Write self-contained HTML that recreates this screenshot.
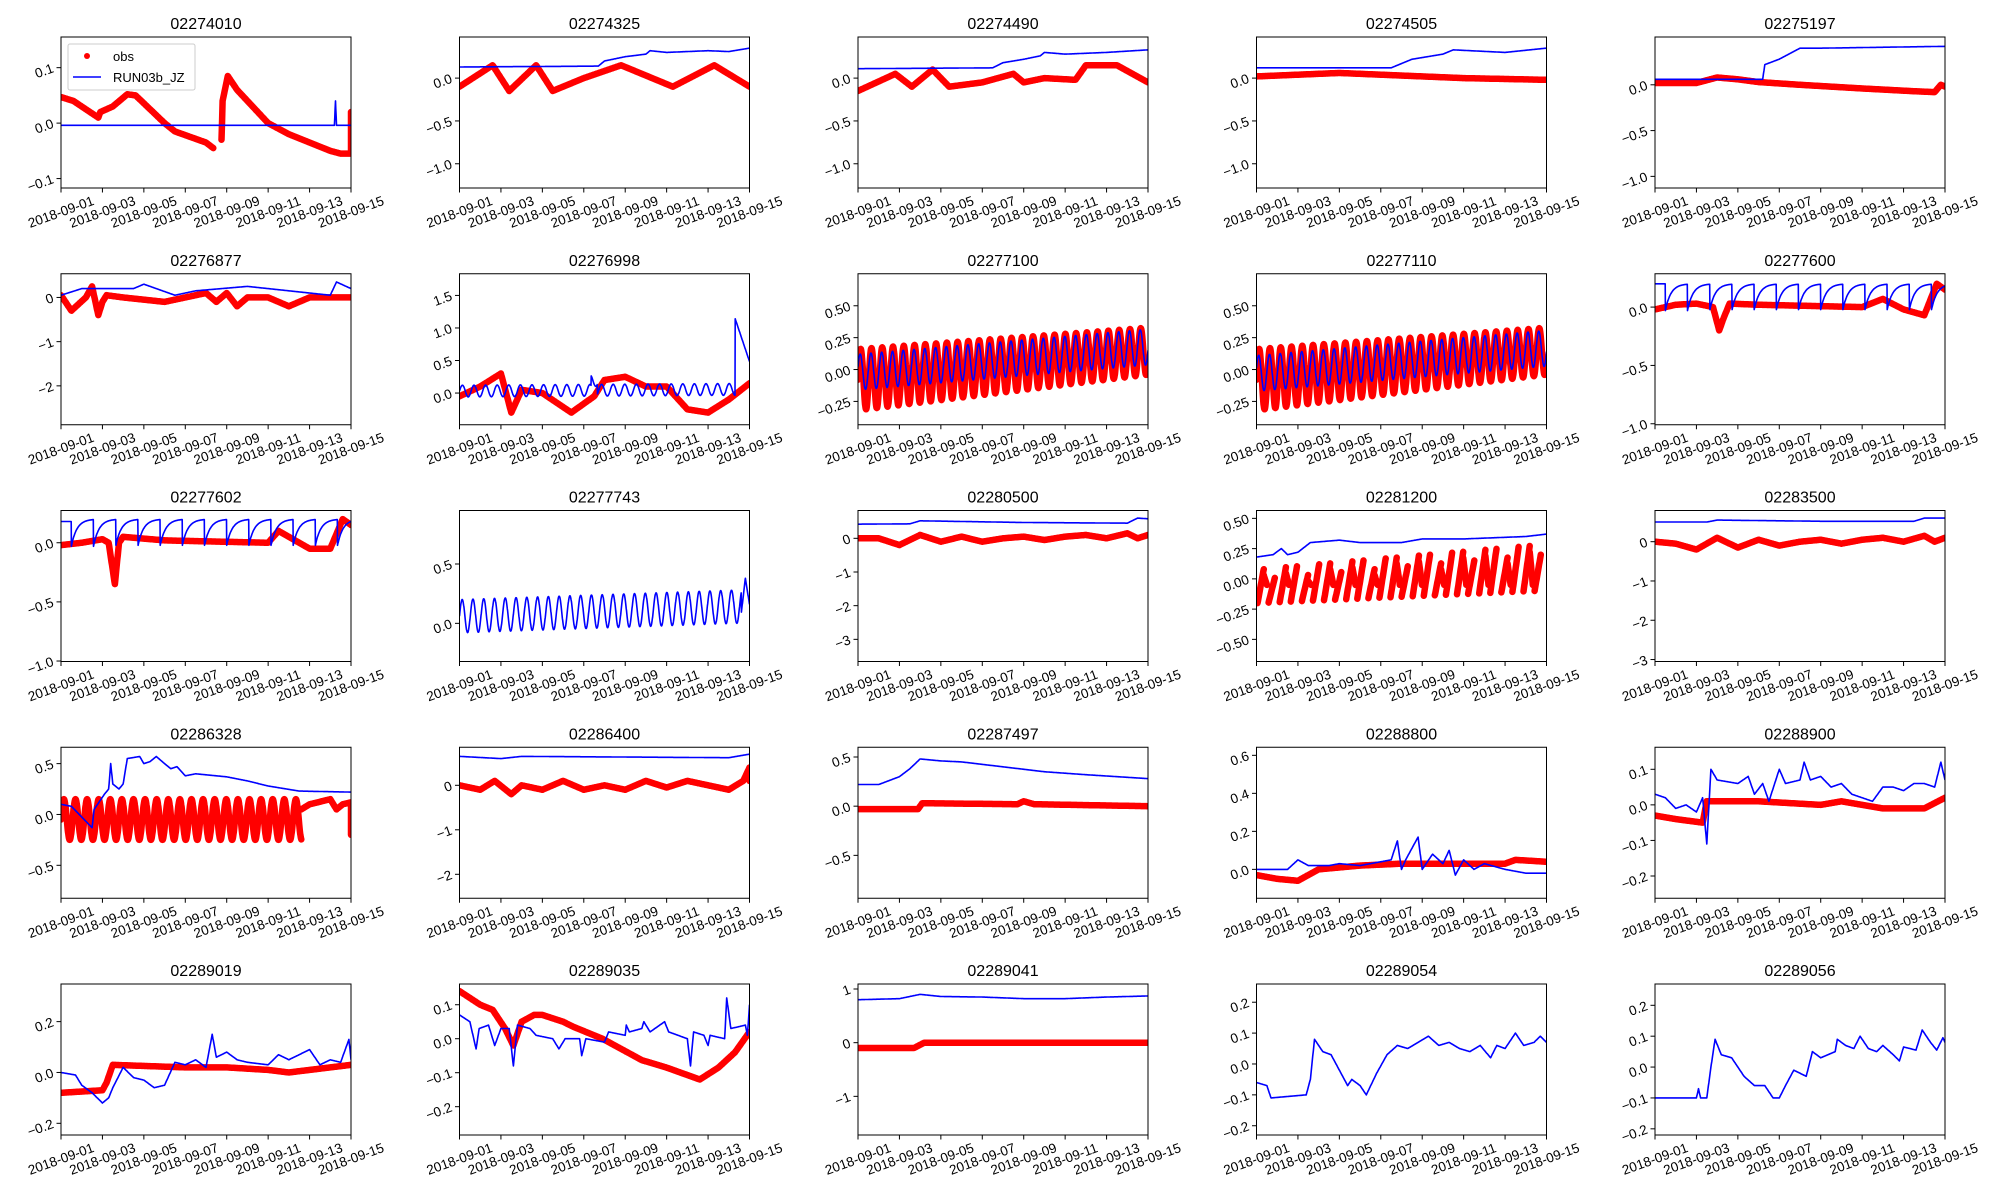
<!DOCTYPE html>
<html><head><meta charset="utf-8">
<style>
html,body{margin:0;padding:0;background:#fff;}
svg{display:block;}
text{font-family:"Liberation Sans","DejaVu Sans",sans-serif;fill:#000;}
</style></head>
<body>
<svg id="s" width="2000" height="1200" viewBox="0 0 2000 1200" xmlns="http://www.w3.org/2000/svg"></svg>
<script>
var NS="http://www.w3.org/2000/svg";
var S=document.getElementById('s');
function el(n,a,p){var e=document.createElementNS(NS,n);for(var k in a)e.setAttribute(k,a[k]);(p||S).appendChild(e);return e;}
var XL=["2018-09-01","2018-09-03","2018-09-05","2018-09-07","2018-09-09","2018-09-11","2018-09-13","2018-09-15"];
function lin(pts,step){step=step||0.02;var o=[];for(var i=0;i<pts.length-1;i++){var a=pts[i],b=pts[i+1];var n=Math.max(1,Math.round((b[0]-a[0])/step));for(var j=0;j<n;j++){var f=j/n;o.push([a[0]+(b[0]-a[0])*f,a[1]+(b[1]-a[1])*f]);}}o.push(pts[pts.length-1]);return o;}
function fn(f,t0,t1){t0=t0||0;t1=t1===undefined?14:t1;var o=[];for(var t=t0;t<=t1+1e-9;t+=0.01)o.push([t,f(t)]);return o;}
function saw(t,off,per){var p=((t-off)/per)%1;if(p<0)p+=1;return p;}
var P=[
{t:"02274010",y:[-0.117,0.1553],yt:[[0.1,"0.1"],[0,"0.0"],[-0.1,"−0.1"]],
 o:[lin([[0,.047],[0.6,.04],[1.8,.01],[1.9,.02],[2.5,.03],[3.2,.052],[3.6,.05],[5,0],[5.5,-.015],[7,-.035],[7.35,-.045]]),lin([[7.75,-.03],[7.8,.04],[8.05,.085],[8.5,.06],[10,0],[11,-.02],[12,-.035],[13,-.05],[13.5,-.055],[14,-.055],[14,.02]])],
 b:[lin([[0,-.004],[13.2,-.004],[13.25,.04],[13.3,-.004],[14,-.004]])],leg:1},
{t:"02274325",y:[-1.283,0.48],yt:[[0,"0.0"],[-0.5,"−0.5"],[-1,"−1.0"]],
 o:[lin([[0,-.1],[1.6,.15],[2.4,-.15],[3.7,.15],[4.5,-.15],[6,0],[7.8,.15],[10.3,-.1],[12.3,.15],[14,-.1]])],
 b:[lin([[0,.13],[6.7,.14],[7,.2],[8,.25],[9,.28],[9.2,.32],[10,.3],[12,.32],[13,.31],[14,.35]])]},
{t:"02274490",y:[-1.283,0.48],yt:[[0,"0.0"],[-0.5,"−0.5"],[-1,"−1.0"]],
 o:[lin([[0,-.15],[1.8,.05],[2.6,-.1],[3.6,.1],[4.4,-.1],[6,-.05],[7.5,.05],[8,-.05],[9,0],[10.5,-.02],[11,.15],[12.5,.15],[14,-.05]])],
 b:[lin([[0,.11],[6.5,.12],[7,.18],[8,.22],[8.8,.26],[9,.3],[10,.28],[12,.3],[14,.33]])]},
{t:"02274505",y:[-1.283,0.48],yt:[[0,"0.0"],[-0.5,"−0.5"],[-1,"−1.0"]],
 o:[lin([[0,.02],[4,.06],[7,.03],[10,0],[14,-.02]])],
 b:[lin([[0,.12],[6.5,.12],[7.5,.22],[9,.28],[9.5,.33],[12,.3],[14,.35]])]},
{t:"02275197",y:[-1.127,0.522],yt:[[0,"0.0"],[-0.5,"−0.5"],[-1,"−1.0"]],
 o:[lin([[0,.02],[2,.02],[3,.08],[4,.06],[5,.03],[7,0],[10,-.04],[12.5,-.07],[13.5,-.08],[13.8,0],[14,-.02]])],
 b:[lin([[0,.06],[5.2,.06],[5.3,.22],[6,.28],[7,.4],[8,.4],[14,.42]])]},
{t:"02276877",y:[-2.88,0.536],yt:[[0,"0"],[-1,"−1"],[-2,"−2"]],
 o:[lin([[0,.05],[0.5,-.3],[1.2,0],[1.5,.25],[1.8,-.4],[2.0,-.1],[2.2,.05],[3,0],[5,-.1],[7,.1],[7.5,-.1],[8,.1],[8.5,-.2],[9,0],[10,0],[11,-.2],[12,0],[14,0]])],
 b:[lin([[0,.05],[1,.2],[3.5,.2],[4,.3],[5.5,.05],[6.5,.15],[9,.25],[10,.2],[13,.05],[13.3,.35],[14,.2]])]},
{t:"02276998",y:[-0.487,1.833],yt:[[1.5,"1.5"],[1,"1.0"],[0.5,"0.5"],[0,"0.0"]],
 o:[lin([[0,-.05],[1,.1],[2,.3],[2.5,-.3],[3,.05],[4,0],[5.4,-.3],[6.5,-.05],[7,.2],[8,.25],[9,.1],[10,.1],[11,-.25],[12,-.3],[13,-.1],[14,.15]])],
 b:[fn(function(t){if(t>13.3)return 1.15-(t-13.3)*0.95;return 0.03+0.002*t+0.09*Math.sin(2*Math.PI*t/0.56)+(Math.abs(t-6.5)<0.15?0.15:0);})]},
{t:"02277100",y:[-0.433,0.751],yt:[[0.5,"0.50"],[0.25,"0.25"],[0,"0.00"],[-0.25,"−0.25"]],
 o:[fn(function(t){return -0.08+0.016*t+(0.24-0.004*t)*Math.sin(2*Math.PI*t/0.52);})],
 b:[fn(function(t){return -0.02+0.014*t+0.14*Math.sin(2*Math.PI*t/0.52+0.3);})]},
{t:"02277110",y:[-0.433,0.751],yt:[[0.5,"0.50"],[0.25,"0.25"],[0,"0.00"],[-0.25,"−0.25"]],
 o:[fn(function(t){return -0.08+0.016*t+(0.24-0.004*t)*Math.sin(2*Math.PI*t/0.52);})],
 b:[fn(function(t){return -0.03+0.014*t+0.14*Math.sin(2*Math.PI*t/0.52+0.3);})]},
{t:"02277600",y:[-1.0085,0.2858],yt:[[0,"0.0"],[-0.5,"−0.5"],[-1,"−1.0"]],
 o:[lin([[0,-.02],[1,.02],[2,.03],[2.8,0],[3.1,-.2],[3.3,-.1],[3.6,.03],[5,.02],[10,0],[11,.07],[12,-.02],[13,-.07],[13.6,.2],[14,.15]])],
 b:[fn(function(t){if(t<0.5)return 0.2;var p=saw(t,0.5,1.07);return -0.03+0.23*(1-Math.exp(-4*p));})]},
{t:"02277602",y:[-1.004,0.2726],yt:[[0,"0.0"],[-0.5,"−0.5"],[-1,"−1.0"]],
 o:[lin([[0,-.02],[1,0],[2,.03],[2.3,0],[2.6,-.35],[2.8,0],[3,.05],[5,.02],[10,0],[10.5,.1],[11,.05],[12,-.05],[13,-.05],[13.6,.2],[14,.15]])],
 b:[fn(function(t){if(t<0.5)return 0.18;var p=saw(t,0.5,1.07);return -0.03+0.23*(1-Math.exp(-4*p));})]},
{t:"02277743",y:[-0.3216,0.951],yt:[[0.5,"0.5"],[0,"0.0"]],
 o:[],
 b:[fn(function(t){if(t>13.6)return 0.38-(t-13.8)*1.1*(t>13.8?1:0)-(t<=13.8?(13.8-t)*1.5:0);return 0.06+0.006*t+0.14*Math.sin(2*Math.PI*t/0.52);})]},
{t:"02280500",y:[-3.658,0.826],yt:[[0,"0"],[-1,"−1"],[-2,"−2"],[-3,"−3"]],
 o:[lin([[0,0],[1,0],[2,-.2],[3,.1],[4,-.1],[5,.05],[6,-.1],[7,0],[8,.05],[9,-.05],[10,.05],[11,.1],[12,0],[13,.15],[13.5,.0],[14,.1]])],
 b:[lin([[0,.42],[2.5,.43],[3,.52],[8,.47],[13,.45],[13.5,.6],[14,.58]])]},
{t:"02281200",y:[-0.683,0.565],yt:[[0.5,"0.50"],[0.25,"0.25"],[0,"0.00"],[-0.25,"−0.25"],[-0.5,"−0.50"]],
 o:(function(){var a=[];for(var k=0;k<26;k++){var t0=0.05+k*0.535;var lo=-0.2+0.004*k,hi=0.08+0.008*k;if(k%3==1)hi-=0.08;a.push(lin([[t0,lo],[t0+0.3,hi]],0.02));if(k%2==0)a.push(lin([[t0+0.3,hi-0.05],[t0+0.45,-0.05]],0.02));}return a;})(),
 b:[lin([[0,.18],[0.8,.2],[1.2,.25],[1.5,.2],[2,.22],[2.6,.3],[4,.32],[5,.3],[6,.3],[7,.3],[8,.33],[10,.33],[13,.35],[14,.37]])]},
{t:"02283500",y:[-3.05,0.794],yt:[[0,"0"],[-1,"−1"],[-2,"−2"],[-3,"−3"]],
 o:[lin([[0,0],[1,-.05],[2,-.2],[3,.1],[4,-.15],[5,.05],[6,-.1],[7,0],[8,.05],[9,-.05],[10,.05],[11,.1],[12,0],[13,.15],[13.5,.0],[14,.1]])],
 b:[lin([[0,.5],[2.5,.5],[3,.55],[8,.52],[12.5,.52],[13,.6],[14,.6]])]},
{t:"02286328",y:[-0.824,0.661],yt:[[0.5,"0.5"],[0,"0.0"],[-0.5,"−0.5"]],
 o:[fn(function(t){return -0.05+0.2*Math.sin(2*Math.PI*t/0.56);},0,11.6),lin([[11.6,.05],[12,.1],[13,.15],[13.3,.05],[13.6,.1],[14,.12],[14,-.2]])],
 b:[lin([[0,.1],[0.5,.08],[1.5,-.13],[1.6,.05],[2.1,.2],[2.3,.25],[2.4,.5],[2.5,.3],[2.8,.25],[3.0,.3],[3.2,.55],[3.8,.57],[4.0,.5],[4.3,.52],[4.6,.57],[5.0,.5],[5.3,.45],[5.6,.47],[6.0,.38],[6.5,.4],[8,.37],[9,.33],[10,.28],[11.5,.23],[14,.22]])]},
{t:"02286400",y:[-2.538,0.855],yt:[[0,"0"],[-1,"−1"],[-2,"−2"]],
 o:[lin([[0,0],[1,-.1],[1.7,.1],[2.5,-.2],[3,0],[4,-.1],[5,.1],[6,-.1],[7,0],[8,-.1],[9,.1],[10,-.05],[11,.1],[12,0],[13,-.1],[13.7,.1],[14,.4],[14,.1]])],
 b:[lin([[0,.65],[2,.6],[3,.65],[13,.62],[14,.7]])]},
{t:"02287497",y:[-0.936,0.599],yt:[[0.5,"0.5"],[0,"0.0"],[-0.5,"−0.5"]],
 o:[lin([[0,-.03],[2.9,-.03],[3.1,.03],[7.7,.02],[8,.05],[8.5,.02],[14,0]])],
 b:[lin([[0,.22],[1,.22],[2,.3],[2.5,.38],[3,.48],[4,.46],[5,.45],[7,.4],[9,.35],[11,.32],[14,.28]])]},
{t:"02288800",y:[-0.152,0.6425],yt:[[0.6,"0.6"],[0.4,"0.4"],[0.2,"0.2"],[0,"0.0"]],
 o:[lin([[0,-.03],[1,-.05],[2,-.06],[2.5,-.03],[3,0],[5,.02],[7,.03],[9,.03],[12,.03],[12.5,.05],[14,.04]])],
 b:[lin([[0,0],[1.5,0],[2,.05],[2.5,.02],[3.5,.02],[4,.03],[5,.02],[6,.04],[6.5,.05],[6.8,.15],[7,0],[7.2,.05],[7.8,.17],[8,0],[8.5,.08],[9,.03],[9.3,.1],[9.6,-.03],[10,.05],[10.5,0],[11,.03],[12,0],[13,-.02],[14,-.02]])]},
{t:"02288900",y:[-0.2626,0.162],yt:[[0.1,"0.1"],[0,"0.0"],[-0.1,"−0.1"],[-0.2,"−0.2"]],
 o:[lin([[0,-.03],[1,-.04],[2.3,-.05],[2.5,.01],[5,.01],[8,0],[9,.01],[11,-.01],[13,-.01],[14,.02]])],
 b:[lin([[0,.03],[0.5,.02],[1,-.01],[1.5,0],[2,-.02],[2.3,.02],[2.5,-.11],[2.7,.1],[3,.07],[4,.06],[4.5,.08],[4.8,.03],[5.2,.06],[5.5,.01],[6,.1],[6.3,.06],[7,.07],[7.2,.12],[7.5,.07],[8,.08],[8.5,.05],[9,.06],[9.5,.03],[10,.02],[10.5,.01],[11,.05],[11.5,.05],[12,.04],[12.5,.06],[13,.06],[13.5,.05],[13.8,.12],[14,.07]])]},
{t:"02289019",y:[-0.246,0.348],yt:[[0.2,"0.2"],[0,"0.0"],[-0.2,"−0.2"]],
 o:[lin([[0,-.08],[2,-.07],[2.2,-.04],[2.5,.03],[6,.02],[8,.02],[10,.01],[11,0],[12,.01],[13,.02],[14,.03]])],
 b:[lin([[0,0],[0.7,-.01],[1,-.05],[1.5,-.08],[2,-.12],[2.3,-.1],[2.5,-.06],[3,.02],[3.5,-.02],[4,-.03],[4.5,-.06],[5,-.05],[5.5,.04],[6,.03],[6.5,.05],[7,.02],[7.3,.15],[7.5,.06],[8,.08],[8.5,.05],[9,.04],[10,.03],[10.5,.07],[11,.05],[12,.09],[12.5,.03],[13,.05],[13.5,.04],[13.9,.13],[14,.05]])]},
{t:"02289035",y:[-0.2833,0.161],yt:[[0.1,"0.1"],[0,"0.0"],[-0.1,"−0.1"],[-0.2,"−0.2"]],
 o:[lin([[0,.14],[0.5,.12],[1,.1],[1.6,.085],[2.2,.03],[2.6,-.02],[3.0,.05],[3.6,.07],[4,.07],[5,.05],[5.5,.035],[6.9,0],[8.8,-.063],[10,-.085],[11.6,-.12],[12.5,-.085],[13.3,-.04],[14,.02]])],
 b:[lin([[0,.07],[0.5,.05],[0.8,-.03],[0.95,.03],[1.4,.04],[1.7,-.02],[2.0,.03],[2.4,.03],[2.6,-.08],[2.8,.04],[3.4,.03],[3.7,.01],[4.5,0],[4.8,-.03],[5.1,0],[5.8,0],[5.9,-.05],[6.1,0],[7,-.01],[7.2,.02],[8,.01],[8.05,.04],[8.2,.02],[8.8,.03],[8.9,.05],[9.2,.02],[9.9,.05],[10.1,.02],[11,0],[11.15,-.08],[11.3,.02],[11.8,.01],[12,-.02],[12.1,.01],[12.8,0],[12.9,.12],[13.1,.03],[13.8,.04],[13.9,.01],[14,.1]])]},
{t:"02289041",y:[-1.72,1.093],yt:[[1,"1"],[0,"0"],[-1,"−1"]],
 o:[lin([[0,-.1],[2.7,-.1],[3.2,0],[14,0]])],
 b:[lin([[0,.8],[2,.82],[3,.9],[4,.86],[6,.85],[8,.82],[10,.82],[12,.85],[14,.87]])]},
{t:"02289054",y:[-0.23,0.259],yt:[[0.2,"0.2"],[0.1,"0.1"],[0,"0.0"],[-0.1,"−0.1"],[-0.2,"−0.2"]],
 o:[],
 b:[lin([[0,-.06],[0.5,-.07],[0.7,-.11],[2.4,-.1],[2.6,-.05],[2.8,.08],[3.2,.04],[3.6,.03],[4,-.02],[4.4,-.07],[4.6,-.05],[5,-.07],[5.3,-.1],[5.8,-.03],[6.3,.03],[6.8,.06],[7.3,.05],[7.8,.07],[8.3,.09],[8.8,.06],[9.3,.07],[9.8,.05],[10.3,.04],[10.8,.06],[11.3,.02],[11.6,.06],[12,.05],[12.5,.1],[12.9,.06],[13.4,.07],[13.7,.09],[14,.07]])]},
{t:"02289056",y:[-0.22,0.269],yt:[[0.2,"0.2"],[0.1,"0.1"],[0,"0.0"],[-0.1,"−0.1"],[-0.2,"−0.2"]],
 o:[],
 b:[lin([[0,-.1],[2.0,-.1],[2.1,-.07],[2.2,-.1],[2.5,-.1],[2.7,0],[2.9,.09],[3.2,.04],[3.7,.03],[4.3,-.03],[4.8,-.06],[5.3,-.06],[5.7,-.1],[6.0,-.1],[6.3,-.06],[6.7,-.01],[7.3,-.03],[7.6,.05],[8,.03],[8.7,.05],[8.8,.09],[9.2,.07],[9.6,.06],[9.9,.1],[10.3,.06],[10.7,.05],[11,.07],[11.5,.04],[11.8,.02],[12,.065],[12.6,.055],[12.9,.12],[13.3,.08],[13.6,.055],[13.9,.095],[14,.08]])]}
];
var W=290,H=151;
P.forEach(function(p,i){
 var c=i%5,r=Math.floor(i/5);
 var L=61+c*398.5,T=37+r*236.75;
 var y0=p.y[0],y1=p.y[1];
 function X(t){return L+t/14*W;}
 function Y(v){return T+(y1-v)/(y1-y0)*H;}
 var cid="c"+i;
 var cp=el("clipPath",{id:cid});el("rect",{x:L,y:T,width:W,height:H},cp);
 var g=el("g",{"clip-path":"url(#"+cid+")"});
 function path(arr){return arr.map(function(q,k){return (k?"L":"M")+X(q[0]).toFixed(1)+" "+Y(q[1]).toFixed(1);}).join("");}
 p.o.forEach(function(a){el("path",{d:path(a),fill:"none",stroke:"#ff0000","stroke-width":6.5,"stroke-linejoin":"round","stroke-linecap":"round"},g);});
 p.b.forEach(function(a){el("path",{d:path(a),fill:"none",stroke:"#0000ff","stroke-width":1.6,"stroke-linejoin":"round"},g);});
 el("rect",{x:L,y:T,width:W,height:H,fill:"none",stroke:"#000","stroke-width":1});
 var tt=el("text",{x:L+W/2,y:T-8,"text-anchor":"middle","font-size":16});tt.textContent=p.t;
 p.yt.forEach(function(q){var yy=Y(q[0]);el("line",{x1:L-4.5,x2:L,y1:yy,y2:yy,stroke:"#000","stroke-width":1});
  var t=el("text",{x:L-8,y:yy+4.5,"text-anchor":"end","font-size":13.5,transform:"rotate(-20 "+(L-8)+" "+yy+")"});t.textContent=q[1];});
 XL.forEach(function(s,k){var xx=L+k*W/7;el("line",{x1:xx,x2:xx,y1:T+H,y2:T+H+4.5,stroke:"#000","stroke-width":1});
  var cy=T+H+24;var t=el("text",{x:xx,y:cy+4.5,"text-anchor":"middle","font-size":13.5,transform:"rotate(-20 "+xx+" "+cy+")"});t.textContent=s;});
 if(p.leg){
  el("rect",{x:68,y:44,width:127,height:46,fill:"#fff","fill-opacity":0.8,stroke:"#ccc","stroke-width":1,rx:2});
  el("circle",{cx:87,cy:56,r:3,fill:"#ff0000"});
  var a=el("text",{x:113,y:61,"font-size":13});a.textContent="obs";
  el("line",{x1:73,x2:101,y1:77,y2:77,stroke:"#0000ff","stroke-width":1.6});
  var b=el("text",{x:113,y:82,"font-size":13});b.textContent="RUN03b_JZ";
 }
});
</script>
</body></html>
